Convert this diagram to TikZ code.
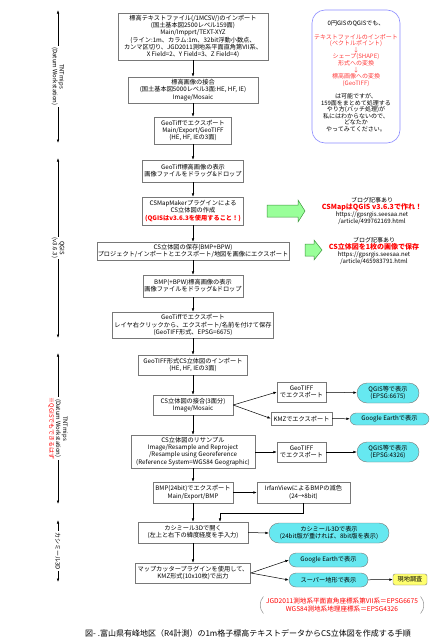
\documentclass[tikz,border=0pt]{standalone}
\usepackage{fontspec}
\setmainfont{Noto Sans CJK JP}
\usetikzlibrary{arrows.meta,shapes.misc}
\definecolor{boxgray}{RGB}{120,120,120}
\definecolor{cyanfill}{RGB}{102,232,240}
\definecolor{greenfill}{RGB}{153,255,153}
\definecolor{greenline}{RGB}{60,150,60}
\definecolor{notecol}{RGB}{140,140,255}
\definecolor{notered}{RGB}{255,60,60}
\definecolor{yellowfill}{RGB}{255,255,110}
\tikzset{
  proc/.style={draw=boxgray, fill=white, align=center, inner sep=1pt,
    font=\fontsize{6.2}{7.2}\selectfont},
  view/.style={rounded rectangle, draw=boxgray, fill=cyanfill, align=center,
    inner sep=1pt, font=\fontsize{6.2}{7.2}\selectfont},
  arr/.style={-{Latex[length=3.5pt,width=2.6pt]}, line width=0.5pt},
  span/.style={{Latex[length=3.5pt,width=2.4pt]}-{Latex[length=3.5pt,width=2.4pt]}, line width=0.5pt},
  spanlabel/.style={rotate=-90, fill=white, align=center, inner sep=1pt,
    font=\fontsize{6}{6.8}\selectfont},
  blog/.style={align=center, inner sep=0pt, font=\fontsize{6}{6.8}\selectfont},
  greenarr/.style={draw=greenline, fill=greenfill, line width=0.5pt},
}
\newcommand{\rd}{\color{notered}}
\begin{document}
\begin{tikzpicture}[x=1pt,y=-1pt]
  \useasboundingbox (0,0) rectangle (434,640);
  % spans on the left
  \coordinate (s1a) at (58,10);  \coordinate (s1b) at (58,143);
  \coordinate (s2a) at (58,158); \coordinate (s2b) at (58,338);
  \coordinate (s3a) at (58,353); \coordinate (s3b) at (58,504);
  \coordinate (s4a) at (58,520); \coordinate (s4b) at (58,582);
  \draw[span] (s1a) -- node[spanlabel]{TNTmips\\(Datum Workstation)} (s1b);
  \draw[span] (s2a) -- node[spanlabel]{QGIS\\(v3.6.3)} (s2b);
  \draw[span] (s3a) -- node[spanlabel]{TNTmips\\(Datum Workstation)\\\color{red}※QGISでもできるはず} (s3b);
  \draw[span] (s4a) -- node[spanlabel]{カシミール3D} (s4b);
  % main flow
  \node[proc, minimum width=150pt, minimum height=47pt] (b1) at (193,36.5)
    {標高テキストファイル(/1MCSV/)のインポート\\(国土基本図2500レベル159面)\\Main/Impprt/TEXT-XYZ\\(ライン:1m、カラム:1m、32bit浮動小数点、\\カンマ区切り、JGD2011測地系平面直角第VII系、\\X Field=2、Y Field=3、Z Field=4)};
  \node[proc, minimum width=130pt, minimum height=26pt] (b2) at (193,90)
    {標高画像の接合\\(国土基本図5000レベル3面:HE, HF, IE)\\Image/Mosaic};
  \node[proc, minimum width=77pt, minimum height=27pt] (b3) at (193,130.5)
    {GeoTiffでエクスポート\\Main/Export/GeoTIFF\\(HE, HF, IEの3面)};
  \node[proc, minimum width=101pt, minimum height=22pt] (b4) at (193,171)
    {GeoTiff標高画像の表示\\画像ファイルをドラッグ\&ドロップ};
  \node[proc, minimum width=101pt, minimum height=28pt] (b5) at (193,211)
    {CSMapMakerプラグインによる\\CS立体図の作成\\\textcolor{red}{\bfseries (QGISはv3.6.3を使用すること！)}};
  \node[proc, minimum width=189pt, minimum height=18pt] (b6) at (193,251)
    {CS立体図の保存(BMP+BPW)\\プロジェクト/インポートとエクスポート/地図を画像にエクスポート};
  \node[proc, minimum width=100pt, minimum height=22pt] (b7) at (193,286)
    {BMP(+BPW)標高画像の表示\\画像ファイルをドラッグ\&ドロップ};
  \node[proc, minimum width=161pt, minimum height=26pt] (b8) at (193,325)
    {GeoTiffでエクスポート\\レイヤ右クリックから、エクスポート/名前を付けて保存\\(GeoTIFF形式、EPSG=6675)};
  \node[proc, minimum width=109pt, minimum height=20pt] (b9) at (193,365)
    {GeoTIFF形式CS立体図のインポート\\(HE, HF, IEの3面)};
  \node[proc, minimum width=80pt, minimum height=20pt] (b10) at (193,405)
    {CS立体図の接合(3面分)\\Image/Mosaic};
  \node[proc, minimum width=124pt, minimum height=33pt] (b11) at (193,451.5)
    {CS立体図のリサンプル\\Image/Resample and Reproject\\/Resample using Georeference\\(Reference System=WGS84 Geographic)};
  \node[proc, minimum width=80pt, minimum height=21pt] (b12) at (193,492.5)
    {BMP(24bit)でエクスポート\\Main/Export/BMP};
  \node[proc, minimum width=110pt, minimum height=21pt] (b13) at (193,532.5)
    {カシミール3Dで開く\\(左上と右下の緯度経度を手入力)};
  \node[proc, minimum width=115pt, minimum height=20pt] (b14) at (193,573)
    {マップカッタープラグインを使用して、\\KMZ形式(10x10枚)で出力};
  \foreach \a/\b in {b1/b2,b2/b3,b3/b4,b4/b5,b5/b6,b6/b7,b7/b8,b8/b9,b9/b10,b10/b11,b11/b12,b12/b13,b13/b14}
    \draw[arr] (\a) -- (\b);
  % outputs on the right
  \node[proc, minimum width=49pt, minimum height=20pt] (gt1) at (301.5,392) {GeoTIFF\\でエクスポート};
  \node[proc, minimum width=61pt, minimum height=13pt] (kmz) at (301.5,418.5) {KMZでエクスポート};
  \node[proc, minimum width=49pt, minimum height=20pt] (gt2) at (301.5,452) {GeoTIFF\\でエクスポート};
  \node[proc, minimum width=93pt, minimum height=21pt] (irfan) at (303.5,492.5) {IrfanViewによるBMPの減色\\(24→8bit)};
  \node[view, minimum width=64pt, minimum height=20pt] (qgis1) at (388,393) {QGIS等で表示\\(EPSG:6675)};
  \node[view, minimum width=81pt, minimum height=12pt] (ge1) at (389.5,419) {Google Earthで表示};
  \node[view, minimum width=64pt, minimum height=20pt] (qgis2) at (388,452) {QGIS等で表示\\(EPSG:4326)};
  \node[view, minimum width=122pt, minimum height=20pt] (kashi) at (329,533) {カシミール3Dで表示\\(24bit版が重ければ、8bit版を表示)};
  \node[view, minimum width=81pt, minimum height=14pt] (ge2) at (328.5,560) {Google Earthで表示};
  \node[view, minimum width=81pt, minimum height=14pt] (super) at (328.5,580) {スーパー地形で表示};
  \node[proc, rounded corners=2pt, fill=yellowfill, minimum width=34pt, minimum height=11pt] (genchi) at (410,579.5) {現地調査};
  \draw[arr] (b10.east) -- (gt1.west);
  \draw[arr] (b10.east) -- (kmz.west);
  \draw[arr] (gt1) -- (qgis1);
  \draw[arr] (kmz) -- (ge1);
  \draw[arr] (b11.east |- gt2) -- (gt2);
  \draw[arr] (gt2) -- (qgis2);
  \draw[arr] (b12) -- (irfan);
  \draw[arr] (irfan.south) -- ++(0,10) -| ([xshift=27pt]b13.north);
  \draw[arr] (b13.east) -- (kashi.west);
  \draw[arr] (b14.east) -- (ge2.west);
  \draw[arr] (b14.east) -- (super.west);
  \draw[arr] (super) -- (genchi);
  % memo
  \node[draw=notecol, line width=0.6pt, rounded corners=13pt, align=center,
    minimum width=88pt, minimum height=133pt, inner sep=1pt,
    font=\fontsize{6}{6.6}\selectfont] (memo) at (356,76.5)
    {0円GISのQGISでも、\\[6.6pt]
     \rd テキストファイルのインポート\\\rd (ベクトルポイント)\\\rd ↓\\\rd シェープ(SHAPE)\\\rd 形式への変換\\\rd ↓\\\rd 標高画像への変換\\\rd (GeoTIFF)\\[6.6pt]
     は可能ですが、\\159面をまとめて処理する\\やり方(バッチ処理)が\\私にはわからないので、\\どなたか\\やってみてください。};
  % blog notes
  \draw[greenarr] (267,205) -- (298,205) -- (298,200) -- (305,211) -- (298,222) -- (298,217) -- (267,217) -- cycle;
  \draw[greenarr] (305,244) -- (314,244) -- (314,240) -- (322,250) -- (314,260) -- (314,256) -- (305,256) -- cycle;
  \node[blog] (blog1) at (372,211)
    {ブログ記事あり\\\textcolor{red}{\fontsize{7}{6.8}\selectfont\bfseries CSMapはQGIS v3.6.3で作れ！}\\https://gpsrgis.seesaa.net\\/article/499762169.html};
  \node[blog] (blog2) at (374,251)
    {ブログ記事あり\\\textcolor{red}{\fontsize{7}{6.8}\selectfont\bfseries CS立体図を1枚の画像で保存}\\https://gpsrgis.seesaa.net\\/article/465983791.html};
  % EPSG note
  \node[align=center, text=red, inner sep=1.5pt, font=\fontsize{6.6}{7.4}\selectfont] (epsg) at (342,605)
    {JGD2011測地系平面直角座標系第VII系＝EPSG6675\\WGS84測地系地理座標系＝EPSG4326};
  \draw[boxgray] ([xshift=-1pt]epsg.north west) to[bend right=40] ([xshift=-1pt]epsg.south west);
  \draw[boxgray] ([xshift=1pt]epsg.north east) to[bend left=40] ([xshift=1pt]epsg.south east);
  % caption
  \node[font=\fontsize{8}{9}\selectfont] (caption) at (248,633)
    {図- .富山県有峰地区（R4計測）の1m格子標高テキストデータからCS立体図を作成する手順};
\end{tikzpicture}
\end{document}
